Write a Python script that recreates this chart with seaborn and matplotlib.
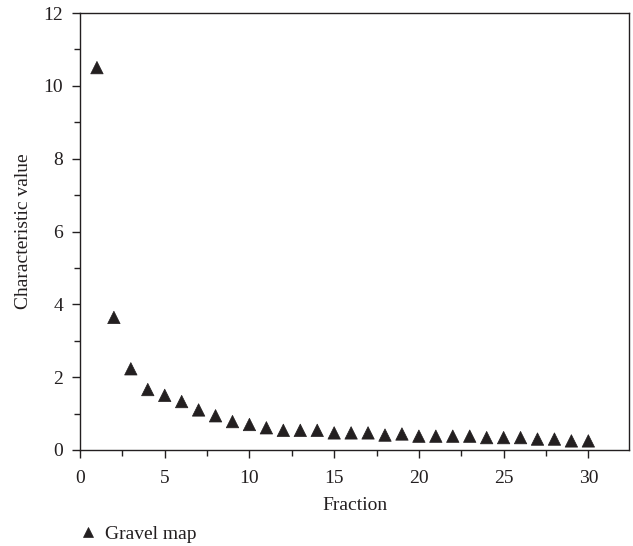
import numpy as np
import pandas as pd
import matplotlib
matplotlib.use("Agg")
import matplotlib.pyplot as plt
from matplotlib.ticker import MultipleLocator
import seaborn as sns

# values
fraction = list(range(1, 31))
char_value = [10.5, 3.64, 2.23, 1.66, 1.50, 1.33, 1.10, 0.94, 0.78, 0.70,
              0.61, 0.54, 0.54, 0.54, 0.47, 0.47, 0.47, 0.41, 0.44, 0.38,
              0.38, 0.38, 0.38, 0.34, 0.34, 0.34, 0.30, 0.30, 0.25, 0.25]
series_name = "Gravel map"

df = pd.DataFrame({"Fraction": fraction, "Characteristic value": char_value,
                   "series": series_name})

sns.set_style("ticks")
plt.rcParams["font.family"] = ["Liberation Serif", "DejaVu Serif"]
ink = "#231f20"
fs = 14

fig = plt.figure(figsize=(6.33, 5.46), dpi=100)
ax = fig.add_axes([80 / 633, 1 - 450 / 546, 549 / 633, 437 / 546])

sns.scatterplot(data=df, x="Fraction", y="Characteristic value", hue="series",
                palette=[ink], marker="^", s=80, edgecolor=ink, linewidth=0.5,
                ax=ax, legend=True)

ax.set_xlim(0, 32.4)
ax.set_ylim(0, 12)
ax.xaxis.set_major_locator(MultipleLocator(5))
ax.xaxis.set_minor_locator(MultipleLocator(2.5))
ax.yaxis.set_major_locator(MultipleLocator(2))
ax.yaxis.set_minor_locator(MultipleLocator(1))
ax.tick_params(which="major", direction="out", length=6, width=1, colors=ink,
               labelsize=fs, top=False, right=False)
ax.tick_params(axis="x", which="major", pad=8.5)
ax.tick_params(axis="y", which="major", pad=6)
ax.tick_params(which="minor", direction="out", length=4, width=1, colors=ink,
               top=False, right=False)
for sp in ax.spines.values():
    sp.set_visible(True)
    sp.set_color(ink)
    sp.set_linewidth(1)

ax.set_xlabel("Fraction", fontsize=fs, color=ink, labelpad=7)
ax.set_ylabel("Characteristic value", fontsize=fs, color=ink, labelpad=8)

leg = ax.legend(loc="center left", frameon=False, fontsize=fs,
                handlelength=1.0, handletextpad=0.4, markerscale=0.8,
                borderaxespad=0, borderpad=0)
leg.set_bbox_to_anchor((78 / 633, 1 - 534 / 546), transform=fig.transFigure)
for t in leg.get_texts():
    t.set_color(ink)

fig.savefig("out.png", dpi=100)
